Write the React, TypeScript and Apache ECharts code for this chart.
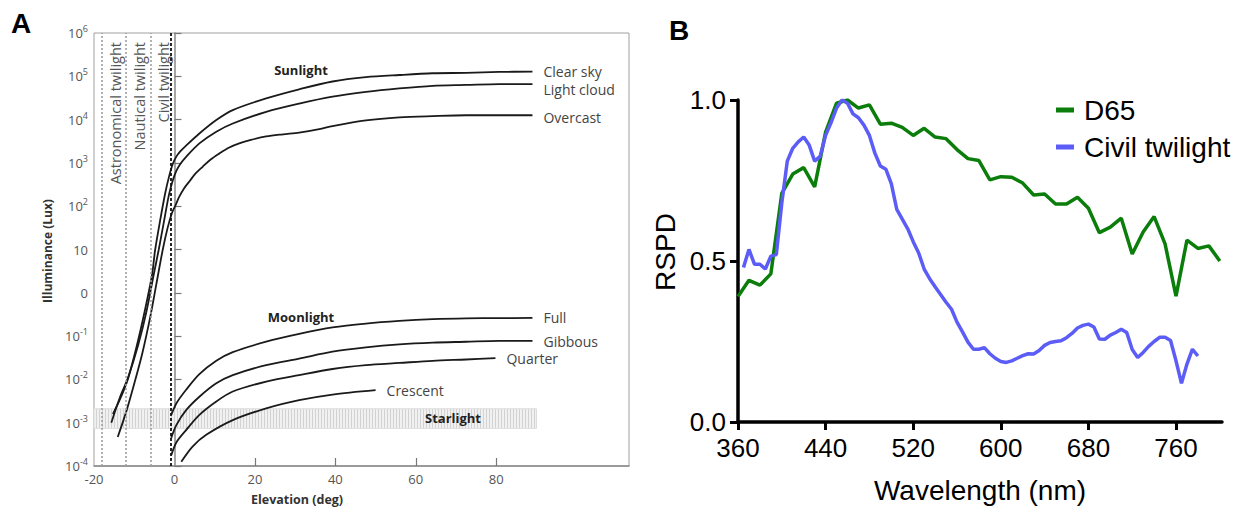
import React, { useEffect, useRef } from 'react';
import * as echarts from 'echarts';

// ---------- Panel A : illuminance vs solar/lunar elevation ----------
const elevLabelValues = [-20, 0, 20, 40, 60, 80];
const elevTickValues = [20, 40, 60, 80];
const twilightLimits = [-18, -12, -6];
const sunriseElevation = -0.83;
const twilightNames = ['Astronomical twilight', 'Nautical twilight', 'Civil twilight'];
const starlightRange = { from: -20, to: 90, low: 7.4e-4, high: 2.1e-3 };

const clearSkyElev = [-15.3, -13.5, -11.6, -9.3, -7.45, -5.6, -4.8, -3.5, -2.3, -1.3, -0.4, 0.5, 1.5, 2.9, 6.2, 10.4, 14.5, 22.8, 31, 39.3, 47.6, 55.9, 64.2, 72.5, 80.7, 89];
const clearSkyLog = [-2.8, -2.45, -2.0, -1.2, -0.45, 0.4, 0.99, 1.7, 2.3, 2.7, 2.98, 3.15, 3.27, 3.4, 3.68, 3.99, 4.22, 4.49, 4.7, 4.88, 4.98, 5.03, 5.07, 5.08, 5.1, 5.11];

const lightCloudElev = [-15.7, -13.5, -11.5, -9, -7, -5.2, -3.9, -2.6, -1.4, -0.4, 0.5, 1.5, 2.9, 6.2, 10.4, 14.5, 22.8, 31, 39.3, 47.6, 55.9, 64.2, 72.5, 80.7, 89];
const lightCloudLog = [-3.0, -2.4, -1.95, -1.2, -0.45, 0.4, 1.0, 1.65, 2.25, 2.6, 2.82, 2.98, 3.14, 3.45, 3.72, 3.91, 4.18, 4.37, 4.53, 4.64, 4.72, 4.78, 4.8, 4.82, 4.82];

const overcastElev = [-14.1, -12, -10, -8, -6, -4.5, -2.9, -1.7, -0.6, 0.4, 1.2, 2.3, 3.7, 5.2, 7, 9, 11.2, 13.5, 16.1, 19, 22.8, 27, 31, 36, 39.3, 47.6, 55.9, 64.2, 72.5, 80.7, 89];
const overcastLog = [-3.33, -2.75, -2.1, -1.4, -0.55, 0.2, 1.0, 1.5, 1.85, 2.05, 2.22, 2.4, 2.57, 2.75, 2.91, 3.08, 3.22, 3.35, 3.45, 3.53, 3.61, 3.66, 3.7, 3.78, 3.85, 3.98, 4.05, 4.08, 4.1, 4.1, 4.1];

const moonElev = [-0.8, 0.5, 2.9, 6.2, 10.4, 14.5, 22.8, 31, 39.3, 47.6, 55.9, 64.2, 72.5, 80.7, 89];
const fullLog = [-2.82, -2.55, -2.24, -1.88, -1.57, -1.37, -1.13, -0.95, -0.8, -0.71, -0.65, -0.61, -0.59, -0.585, -0.58];
const gibbousLog = [-3.35, -3.05, -2.71, -2.4, -2.09, -1.9, -1.67, -1.52, -1.36, -1.26, -1.19, -1.15, -1.13, -1.11, -1.11];
const quarterElev = [-0.8, 0.5, 2.9, 6.2, 10.4, 14.5, 22.8, 31, 39.3, 47.6, 55.9, 64.2, 72.5, 79.8];
const quarterLog = [-3.75, -3.45, -3.17, -2.82, -2.51, -2.28, -2.05, -1.9, -1.76, -1.67, -1.62, -1.57, -1.54, -1.51];
const crescentElev = [1.7, 4.5, 7.9, 14.5, 22.8, 31, 39.3, 50];
const crescentLog = [-3.9, -3.55, -3.28, -2.94, -2.67, -2.48, -2.35, -2.25];

// ---------- Panel B : relative spectral power distribution ----------
const wavelengthTicks = [360, 440, 520, 600, 680, 760];
const d65Wavelength = [360, 370, 380, 390, 400, 410, 420, 430, 440, 450, 460, 470, 480, 490, 500, 510, 520, 530, 540, 550, 560, 570, 580, 590, 600, 610, 620, 630, 640, 650, 660, 670, 680, 690, 700, 710, 720, 730, 740, 750, 760, 770, 780, 790, 800];
const d65Rspd = [0.39, 0.44, 0.425, 0.46, 0.71, 0.77, 0.79, 0.73, 0.9, 0.99, 1.0, 0.975, 0.985, 0.925, 0.928, 0.915, 0.89, 0.912, 0.885, 0.88, 0.846, 0.818, 0.812, 0.752, 0.762, 0.76, 0.742, 0.705, 0.708, 0.677, 0.677, 0.698, 0.664, 0.588, 0.605, 0.633, 0.522, 0.59, 0.638, 0.553, 0.391, 0.565, 0.539, 0.547, 0.5];
const civilWavelength = [365, 370, 375, 380, 385, 390, 395, 400, 405, 410, 415, 420, 425, 430, 435, 440, 445, 450, 455, 460, 465, 470, 475, 480, 485, 490, 495, 500, 505, 510, 515, 520, 525, 530, 535, 540, 545, 550, 555, 560, 565, 570, 575, 580, 585, 590, 595, 600, 605, 610, 615, 620, 625, 630, 635, 640, 645, 650, 655, 660, 665, 670, 675, 680, 685, 690, 695, 700, 705, 710, 715, 720, 725, 730, 735, 740, 745, 750, 755, 760, 765, 770, 775, 780];
const civilRspd = [0.48, 0.536, 0.49, 0.49, 0.475, 0.515, 0.52, 0.68, 0.81, 0.85, 0.87, 0.885, 0.86, 0.81, 0.825, 0.89, 0.93, 0.975, 1.0, 0.99, 0.957, 0.945, 0.922, 0.89, 0.835, 0.795, 0.785, 0.74, 0.66, 0.63, 0.6, 0.56, 0.525, 0.475, 0.445, 0.42, 0.396, 0.372, 0.35, 0.31, 0.28, 0.248, 0.226, 0.226, 0.231, 0.212, 0.198, 0.188, 0.185, 0.19, 0.198, 0.206, 0.212, 0.211, 0.222, 0.238, 0.247, 0.25, 0.252, 0.262, 0.275, 0.292, 0.3, 0.304, 0.295, 0.258, 0.257, 0.27, 0.278, 0.288, 0.278, 0.225, 0.2, 0.216, 0.235, 0.25, 0.263, 0.263, 0.253, 0.19, 0.12, 0.18, 0.226, 0.205];

const toLux = (xs: number[], logs: number[]) => xs.map((x, i) => [x, Math.pow(10, logs[i])]);
const zip = (xs: number[], ys: number[]) => xs.map((x, i) => [x, ys[i]]);

const GREY = '#555';
const FONT_A = '"Open Sans", "Noto Sans", sans-serif';
const FONT_B = '"Liberation Sans", Arial, sans-serif';

function hatchPattern() {
  const c = document.createElement('canvas');
  c.width = 3;
  c.height = 4;
  const ctx = c.getContext('2d')!;
  ctx.fillStyle = '#f1f1f1';
  ctx.fillRect(0, 0, 3, 4);
  ctx.fillStyle = '#d2d2d2';
  ctx.fillRect(0, 0, 1, 4);
  return c;
}

export default function App() {
  const ref = useRef<HTMLDivElement>(null);
  useEffect(() => {
    if (!ref.current) return;
    const chart = echarts.init(ref.current, undefined, { renderer: 'svg' });

    const curveA = (name: string, data: number[][], labelOffsetY = 0) => ({
      name,
      type: 'line',
      xAxisIndex: 0,
      yAxisIndex: 0,
      data,
      symbol: 'none',
      smooth: 0.3,
      lineStyle: { color: '#1a1a1a', width: 1.8 },
      silent: true,
      endLabel: {
        show: true,
        formatter: '{a}',
        color: '#444',
        fontSize: 14,
        fontFamily: FONT_A,
        distance: 11,
        offset: [0, labelOffsetY],
      },
      z: 3,
    });

    const twilightLines = twilightLimits.map((v) => ({
      xAxis: v,
      lineStyle: { color: '#a0a0a0', type: [2, 2], width: 1.6 },
    }));

    const twilightLabelX = [115, 139, 163];

    const option: any = {
      animation: false,
      grid: [
        { left: 94, top: 33, width: 535, height: 433, show: true, borderColor: '#a0a0a0', borderWidth: 1 },
        { left: 738, top: 100, width: 484, height: 322 },
      ],
      xAxis: [
        {
          gridIndex: 0,
          type: 'value',
          min: -20,
          max: 113,
          splitLine: { show: false },
          axisLine: { lineStyle: { color: '#888', width: 1.5 } },
          axisTick: { inside: true, length: 8, customValues: elevTickValues, lineStyle: { color: '#777', width: 1.2 } },
          axisLabel: { customValues: elevLabelValues, color: GREY, fontSize: 13, fontFamily: FONT_A, margin: 6 },
        },
        {
          gridIndex: 1,
          type: 'value',
          min: 360,
          max: 802,
          interval: 80,
          splitLine: { show: false },
          axisLine: { lineStyle: { color: '#000', width: 3.5 } },
          axisTick: { length: 8, customValues: wavelengthTicks, lineStyle: { color: '#000', width: 3 } },
          axisLabel: { customValues: wavelengthTicks, color: '#000', fontSize: 26, fontFamily: FONT_B, margin: 13 },
        },
      ],
      yAxis: [
        {
          gridIndex: 0,
          type: 'log',
          logBase: 10,
          min: 1e-4,
          max: 1e6,
          splitNumber: 10,
          splitLine: { show: false },
          axisLine: { show: true, lineStyle: { color: '#888', width: 1.5 } },
          axisTick: { show: true, inside: true, length: 7, lineStyle: { color: '#777', width: 1.2 } },
          axisLabel: {
            margin: 6,
            color: GREY,
            fontFamily: FONT_A,
            formatter: (v: number) => {
              const e = Math.round(Math.log10(v));
              if (e === 1) return '{b|10}';
              if (e === 0) return '{b|0}';
              return `{b|10}{s|${e}}`;
            },
            rich: {
              b: { fontSize: 13, color: GREY, fontFamily: FONT_A, lineHeight: 18 },
              s: { fontSize: 9, color: GREY, fontFamily: FONT_A, verticalAlign: 'top', lineHeight: 12 },
            },
          },
        },
        {
          gridIndex: 1,
          type: 'value',
          min: 0,
          max: 1,
          interval: 0.5,
          splitLine: { show: false },
          axisLine: { show: true, lineStyle: { color: '#000', width: 3.5 } },
          axisTick: { show: true, length: 8, lineStyle: { color: '#000', width: 3 } },
          axisLabel: { color: '#000', fontSize: 26, fontFamily: FONT_B, margin: 12, formatter: (v: number) => v.toFixed(1) },
        },
      ],
      legend: {
        data: ['D65', 'Civil twilight'],
        orient: 'vertical',
        left: 1056,
        top: 95,
        padding: 0,
        itemWidth: 18,
        itemHeight: 5,
        itemGap: 7,
        icon: 'rect',
        textStyle: { fontSize: 28, fontFamily: FONT_B, color: '#000', lineHeight: 30, padding: [0, 0, 0, 5] },
      },
      series: [
        {
          ...curveA('Clear sky', toLux(clearSkyElev, clearSkyLog)),
          markLine: {
            silent: true,
            symbol: ['none', 'none'],
            label: { show: false },
            data: [
              ...twilightLines,
              { xAxis: sunriseElevation, lineStyle: { color: '#111', type: [3, 2], width: 1.8 } },
            ],
          },
        },
        curveA('Light cloud', toLux(lightCloudElev, lightCloudLog), 5),
        curveA('Overcast', toLux(overcastElev, overcastLog), 2),
        {
          ...curveA('Full', toLux(moonElev, fullLog)),
          markArea: {
            silent: true,
            itemStyle: { color: { image: hatchPattern(), repeat: 'repeat' }, borderColor: '#dddddd', borderWidth: 1 },
            label: { show: false },
            data: [[
              { xAxis: starlightRange.from, yAxis: starlightRange.low },
              { xAxis: starlightRange.to, yAxis: starlightRange.high },
            ]],
          },
        },
        curveA('Gibbous', toLux(moonElev, gibbousLog), 1),
        curveA('Quarter', toLux(quarterElev, quarterLog)),
        curveA('Crescent', toLux(crescentElev, crescentLog)),
        {
          name: 'D65',
          type: 'line',
          xAxisIndex: 1,
          yAxisIndex: 1,
          data: zip(d65Wavelength, d65Rspd),
          symbol: 'none',
          lineStyle: { color: '#0a7d0a', width: 3.5 },
          itemStyle: { color: '#0a7d0a' },
          silent: true,
        },
        {
          name: 'Civil twilight',
          type: 'line',
          xAxisIndex: 1,
          yAxisIndex: 1,
          data: zip(civilWavelength, civilRspd),
          symbol: 'none',
          lineStyle: { color: '#5c5cf6', width: 3.5 },
          itemStyle: { color: '#5c5cf6' },
          silent: true,
        },
      ],
      graphic: [
        { type: 'text', x: 21, y: 23, style: { text: 'A', fontSize: 28, fontWeight: 'bold', fontFamily: FONT_B, fill: '#000', align: 'center', verticalAlign: 'middle' } },
        { type: 'text', x: 679, y: 30, style: { text: 'B', fontSize: 28, fontWeight: 'bold', fontFamily: FONT_B, fill: '#000', align: 'center', verticalAlign: 'middle' } },
        ...twilightNames.map((t, i) => ({
          type: 'text', x: twilightLabelX[i], y: 42, rotation: Math.PI / 2,
          style: { text: t, fontSize: 14.5, fontFamily: FONT_A, fill: GREY, align: 'right', verticalAlign: 'middle' },
        })),
        { type: 'text', x: 47, y: 251, rotation: Math.PI / 2, style: { text: 'Illuminance (Lux)', fontSize: 12, fontWeight: 'bold', fontFamily: FONT_A, fill: '#333', align: 'center', verticalAlign: 'middle' } },
        { type: 'text', x: 297, y: 499, style: { text: 'Elevation (deg)', fontSize: 12.5, fontWeight: 'bold', fontFamily: FONT_A, fill: '#333', align: 'center', verticalAlign: 'middle' } },
        { type: 'text', x: 301, y: 70, style: { text: 'Sunlight', fontSize: 13, fontWeight: 'bold', fontFamily: FONT_A, fill: '#222', align: 'center', verticalAlign: 'middle' } },
        { type: 'text', x: 301, y: 317, style: { text: 'Moonlight', fontSize: 13, fontWeight: 'bold', fontFamily: FONT_A, fill: '#222', align: 'center', verticalAlign: 'middle' } },
        { type: 'text', x: 453, y: 418, z: 10, style: { text: 'Starlight', fontSize: 13, fontWeight: 'bold', fontFamily: FONT_A, fill: '#222', align: 'center', verticalAlign: 'middle' } },
        { type: 'text', x: 665, y: 252, rotation: Math.PI / 2, style: { text: 'RSPD', fontSize: 28, fontFamily: FONT_B, fill: '#000', align: 'center', verticalAlign: 'middle' } },
        { type: 'text', x: 980, y: 490, style: { text: 'Wavelength (nm)', fontSize: 28, fontFamily: FONT_B, fill: '#000', align: 'center', verticalAlign: 'middle' } },
      ],
    };

    chart.setOption(option);
    return () => chart.dispose();
  }, []);

  return (
    <div
      ref={ref}
      style={{ position: 'fixed', left: 0, top: 0, width: 1244, height: 508, background: '#fff' }}
    />
  );
}
